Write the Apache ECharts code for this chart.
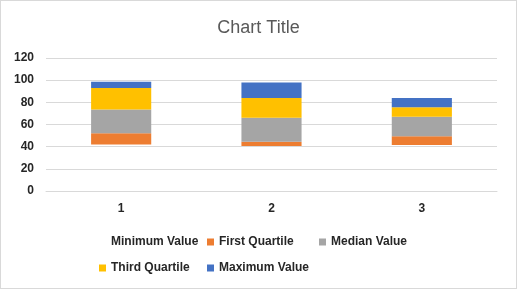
<!DOCTYPE html>
<html>
<head>
<meta charset="utf-8">
<script src="https://cdn.jsdelivr.net/npm/echarts@6/dist/echarts.min.js"></script>
<style>
  html, body { margin: 0; padding: 0; background: #fff; }
  #chart { width: 515px; height: 287px; border: 1px solid #d9d9d9; }
</style>
</head>
<body>
<div id="chart"></div>
<script>
// data (stacked increments)
var categories = ["1", "2", "3"];
var minimumValue = [42, 40.5, 41.5];
var firstQuartile = [10, 4, 8];
var medianValue = [21.5, 21.5, 17.5];
var thirdQuartile = [19.5, 18, 8.5];
var maximumValue = [5.5, 14, 8.5];
var yTicks = [0, 20, 40, 60, 80, 100, 120];

var seriesNames = ["Minimum Value", "First Quartile", "Median Value", "Third Quartile", "Maximum Value"];
var seriesData = [minimumValue, firstQuartile, medianValue, thirdQuartile, maximumValue];
var colors = ["transparent", "#ed7d31", "#a5a5a5", "#ffc000", "#4472c4"];

// legend slots, laid out like the Excel grid
var legendPos = [
  { left: 93, top: 230 },
  { left: 201, top: 230 },
  { left: 313, top: 230 },
  { left: 93, top: 256 },
  { left: 201, top: 256 }
];

var font = "Liberation Sans";

var chart = echarts.init(document.getElementById("chart"));
chart.setOption({
  animation: false,
  title: {
    text: "Chart Title",
    left: "center",
    top: 13,
    textStyle: { fontFamily: font, fontSize: 18, fontWeight: "normal", color: "#595959" }
  },
  legend: seriesNames.map(function (n, i) {
    return {
      data: [n],
      left: legendPos[i].left,
      top: legendPos[i].top,
      itemWidth: 7,
      itemHeight: 7,
      itemGap: 4,
      icon: "rect",
      selectedMode: false,
      textStyle: { fontFamily: font, fontSize: 12, fontWeight: "bold", color: "#262626" }
    };
  }),
  grid: { left: 45, right: 19, top: 57, bottom: 97 },
  xAxis: {
    type: "category",
    data: categories,
    axisLine: { lineStyle: { color: "#d9d9d9" } },
    axisTick: { show: false },
    axisLabel: { fontFamily: font, fontSize: 12, fontWeight: "bold", color: "#262626", margin: 12 }
  },
  yAxis: {
    type: "value",
    min: yTicks[0],
    max: yTicks[yTicks.length - 1],
    interval: 20,
    axisLine: { show: false },
    axisTick: { show: false },
    splitLine: { lineStyle: { color: "#d9d9d9" } },
    axisLabel: { fontFamily: font, fontSize: 12, fontWeight: "bold", color: "#262626", margin: 12 }
  },
  series: seriesNames.map(function (n, i) {
    return {
      name: n,
      type: "bar",
      stack: "box",
      data: seriesData[i],
      barWidth: "40%",
      itemStyle: { color: colors[i] }
    };
  })
});
</script>
</body>
</html>
